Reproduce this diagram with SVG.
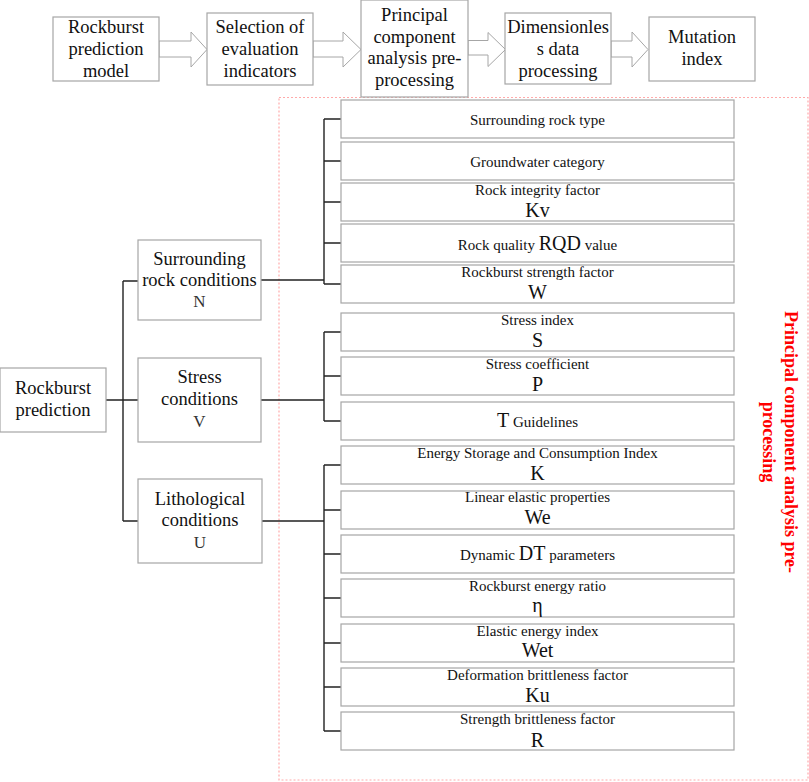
<svg xmlns="http://www.w3.org/2000/svg" width="809" height="782" viewBox="0 0 809 782" font-family="'Liberation Serif', serif">
<defs>
<style>
text{font-family:"Liberation Serif",serif}
.box{fill:#fff;stroke:#a6a6a6;stroke-width:1.2}
.arr{fill:#fff;stroke:#a6a6a6;stroke-width:1}
.t18{font-family:"Times New Roman","Liberation Serif",serif;font-size:18.5px;fill:#111;text-anchor:middle}
.t15{font-size:15px;fill:#111;text-anchor:middle}
.sym{font-size:20px;fill:#111;text-anchor:middle}
.big{font-size:20px}
.let{font-size:17px;fill:#333;text-anchor:middle}
.ln{fill:none;stroke:#222;stroke-width:1.4}
.dash{fill:none;stroke:#ffaaaa;stroke-width:1.2;stroke-dasharray:2 2}
.red{font-size:18px;font-weight:bold;fill:#ff0000;text-anchor:middle}
</style>
</defs>
<rect width="809" height="782" fill="#fff"/>

<g id="frame">
<rect class="dash" x="279" y="97.5" width="529" height="682.5"/>
<text class="red" transform="translate(785,442) rotate(90)">Principal component analysis pre-</text>
<text class="red" transform="translate(763,442) rotate(90)">processing</text>
</g>

<g id="top-arrows">
<polygon class="arr" points="159,41 191,41 191,32 207,49.5 191,67 191,57 159,57"/>
<polygon class="arr" points="313,41 343,41 343,32 361,49.5 343,67 343,57 313,57"/>
<polygon class="arr" points="468,40.5 488,40.5 488,32.5 505.5,49.5 488,66.5 488,55 468,55"/>
<polygon class="arr" points="611,41 632,41 632,32 648,49.5 632,67 632,57 611,57"/>
</g>

<g id="n-model"><rect class="box" x="53" y="17" width="106" height="64"/>
<text class="t18" x="106" y="33">Rockburst</text><text class="t18" x="106" y="55">prediction</text><text class="t18" x="106" y="77">model</text></g>
<g id="n-selection"><rect class="box" x="207" y="13" width="106" height="72"/>
<text class="t18" x="260" y="33">Selection of</text><text class="t18" x="260" y="55">evaluation</text><text class="t18" x="260" y="77">indicators</text></g>
<g id="n-pca"><rect class="box" x="361" y="0" width="107" height="97"/>
<text class="t18" x="414.5" y="21">Principal</text><text class="t18" x="414.5" y="42.5">component</text><text class="t18" x="414.5" y="64">analysis pre-</text><text class="t18" x="414.5" y="85.5">processing</text></g>
<g id="n-dimless"><rect class="box" x="505" y="13" width="106" height="71"/>
<text class="t18" x="558" y="33">Dimensionles</text><text class="t18" x="558" y="55">s data</text><text class="t18" x="558" y="77">processing</text></g>
<g id="n-mutation"><rect class="box" x="649" y="17" width="106" height="64"/>
<text class="t18" x="702" y="43">Mutation</text><text class="t18" x="702" y="65">index</text></g>

<g id="connectors">
<path class="ln" d="M106,400H138M123,281V521M123,281H138M123,521H138"/>
<path class="ln" d="M261,280H324M324,119V284M324,119H341M324,161H341M324,202H341M324,243H341M324,284H341"/>
<path class="ln" d="M261,400H324M324,332V421M324,332H341M324,376H341M324,421H341"/>
<path class="ln" d="M262,521H324M324,465V731M324,465H341M324,510H341M324,554H341M324,598H341M324,643H341M324,687H341M324,731H341"/>
</g>

<g id="n-root"><rect class="box" x="0" y="368" width="106" height="64"/>
<text class="t18" x="53" y="394">Rockburst</text><text class="t18" x="53" y="416">prediction</text></g>
<g id="n-surround"><rect class="box" x="138" y="240" width="123" height="80"/>
<text class="t18" x="199.5" y="265">Surrounding</text><text class="t18" x="199.5" y="286">rock conditions</text><text class="let" x="199.5" y="307">N</text></g>
<g id="n-stress"><rect class="box" x="138" y="358" width="123" height="84"/>
<text class="t18" x="199.5" y="383">Stress</text><text class="t18" x="199.5" y="405">conditions</text><text class="let" x="199.5" y="427">V</text></g>
<g id="n-litho"><rect class="box" x="138" y="479" width="124" height="84"/>
<text class="t18" x="200" y="505">Lithological</text><text class="t18" x="200" y="526">conditions</text><text class="let" x="200" y="548">U</text></g>

<g id="i1"><rect class="box" x="341" y="100" width="393" height="38"/><text class="t15" x="537.5" y="125">Surrounding rock type</text></g>
<g id="i2"><rect class="box" x="341" y="142" width="393" height="38"/><text class="t15" x="537.5" y="167">Groundwater category</text></g>
<g id="i3"><rect class="box" x="341" y="183" width="393" height="38"/><text class="t15" x="537.5" y="195">Rock integrity factor</text><text class="sym" x="537.5" y="217">Kv</text></g>
<g id="i4"><rect class="box" x="341" y="224" width="393" height="38"/><text class="t15" x="537.5" y="250">Rock quality <tspan class="big">RQD</tspan> value</text></g>
<g id="i5"><rect class="box" x="341" y="265" width="393" height="38"/><text class="t15" x="537.5" y="277">Rockburst strength factor</text><text class="sym" x="537.5" y="299">W</text></g>
<g id="i6"><rect class="box" x="341" y="313" width="393" height="38"/><text class="t15" x="537.5" y="325">Stress index</text><text class="sym" x="537.5" y="347">S</text></g>
<g id="i7"><rect class="box" x="341" y="357" width="393" height="38"/><text class="t15" x="537.5" y="369">Stress coefficient</text><text class="sym" x="537.5" y="391">P</text></g>
<g id="i8"><rect class="box" x="341" y="402" width="393" height="38"/><text class="t15" x="537.5" y="427"><tspan class="big">T</tspan> Guidelines</text></g>
<g id="i9"><rect class="box" x="341" y="446" width="393" height="38"/><text class="t15" x="537.5" y="458">Energy Storage and Consumption Index</text><text class="sym" x="537.5" y="480">K</text></g>
<g id="i10"><rect class="box" x="341" y="491" width="393" height="38"/><text class="t15" x="537.5" y="502">Linear elastic properties</text><text class="sym" x="537.5" y="524">We</text></g>
<g id="i11"><rect class="box" x="341" y="535" width="393" height="38"/><text class="t15" x="537.5" y="560">Dynamic <tspan class="big">DT</tspan> parameters</text></g>
<g id="i12"><rect class="box" x="341" y="579" width="393" height="38"/><text class="t15" x="537.5" y="591">Rockburst energy ratio</text><text class="sym" x="537.5" y="612">η</text></g>
<g id="i13"><rect class="box" x="341" y="624" width="393" height="38"/><text class="t15" x="537.5" y="636">Elastic energy index</text><text class="sym" x="537.5" y="657">Wet</text></g>
<g id="i14"><rect class="box" x="341" y="668" width="393" height="38"/><text class="t15" x="537.5" y="680">Deformation brittleness factor</text><text class="sym" x="537.5" y="702">Ku</text></g>
<g id="i15"><rect class="box" x="341" y="712" width="393" height="38"/><text class="t15" x="537.5" y="724">Strength brittleness factor</text><text class="sym" x="537.5" y="747">R</text></g>
</svg>
